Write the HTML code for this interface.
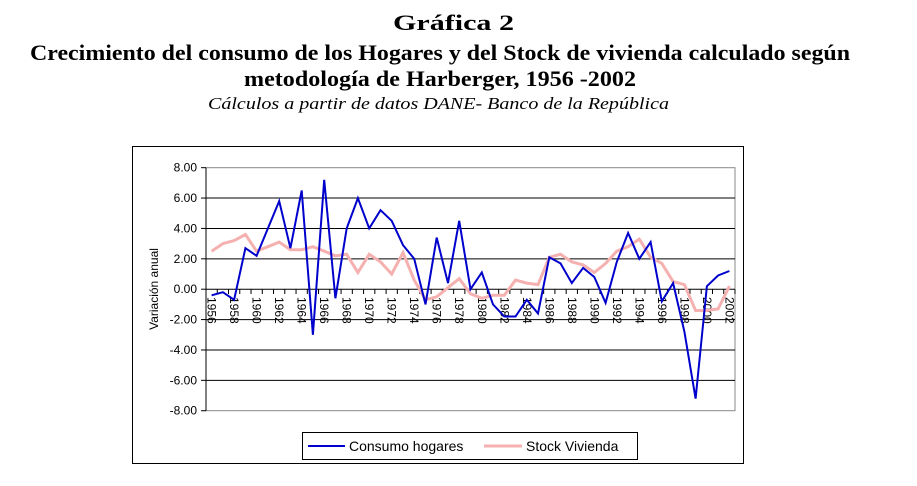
<!DOCTYPE html>
<html><head><meta charset="utf-8"><style>
body{margin:0;background:#fff;width:917px;height:481px;overflow:hidden}
</style></head><body>
<svg id="s" width="917" height="481" xmlns="http://www.w3.org/2000/svg" font-family="Liberation Sans, sans-serif">
<text x="393" y="30" textLength="121" lengthAdjust="spacingAndGlyphs" font-family="Liberation Serif, serif" font-weight="bold" font-size="22">Gráfica 2</text>
<text x="30" y="60" textLength="820" lengthAdjust="spacingAndGlyphs" font-family="Liberation Serif, serif" font-weight="bold" font-size="22">Crecimiento del consumo de los Hogares y del  Stock de vivienda calculado según</text>
<text x="244" y="86" textLength="392" lengthAdjust="spacingAndGlyphs" font-family="Liberation Serif, serif" font-weight="bold" font-size="22">metodología de Harberger, 1956 -2002</text>
<text x="208" y="109" textLength="461" lengthAdjust="spacingAndGlyphs" font-family="Liberation Serif, serif" font-style="italic" font-size="17">Cálculos  a partir de datos DANE- Banco de la República</text>
<rect x="132.5" y="146.5" width="611" height="317" fill="#fff" stroke="#000" stroke-width="1"/>
<rect x="206" y="167.7" width="529" height="243" fill="none" stroke="#888" stroke-width="1"/>
<g id="g"></g>
<text transform="translate(158,289) rotate(-90)" text-anchor="middle" font-size="12">Variación anual</text>
<rect x="302.5" y="432.5" width="335" height="27" fill="#fff" stroke="#000"/>
<line x1="308" y1="446" x2="345" y2="446" stroke="#0000cc" stroke-width="2"/>
<text x="349" y="451" font-size="14">Consumo hogares</text>
<line x1="484" y1="446" x2="522" y2="446" stroke="#f5b0b0" stroke-width="3"/>
<text x="526" y="451" font-size="14">Stock Vivienda</text>
</svg>
<script>
var c=[-0.4,-0.2,-0.7,2.7,2.2,4.0,5.8,2.7,6.5,-3.0,7.2,-0.6,4.0,6.0,4.0,5.2,4.5,2.9,2.0,-1.0,3.4,0.4,4.5,0.0,1.1,-1.0,-1.8,-1.8,-0.7,-1.6,2.1,1.7,0.4,1.4,0.8,-0.9,1.8,3.7,2.0,3.1,-0.8,0.4,-2.8,-7.2,0.2,0.9,1.2];
var s=[2.5,3.0,3.2,3.6,2.5,2.8,3.1,2.6,2.6,2.8,2.5,2.2,2.3,1.1,2.3,1.8,1.0,2.4,0.6,-0.7,-0.5,0.1,0.7,-0.3,-0.6,-0.4,-0.4,0.6,0.4,0.3,2.1,2.3,1.8,1.6,1.1,1.7,2.5,2.8,3.3,2.1,1.7,0.5,0.3,-1.4,-1.4,-1.3,0.2];
var x0=206,w=529/47,Y=function(v){return 289.2-v*15.19};
var h='';
for(var v=8;v>=-8;v-=2){var y=Y(v);h+='<text x="197" y="'+(y+4)+'" text-anchor="end" font-size="12">'+(v<0?'-':'')+Math.abs(v).toFixed(2)+'</text>';
 h+='<line x1="201" x2="206" y1="'+y+'" y2="'+y+'" stroke="#000"/>';
 if(v!=8&&v!=-8&&v!=0)h+='<line x1="206" x2="735" y1="'+y+'" y2="'+y+'" stroke="#000"/>';}
h+='<line x1="206" x2="206" y1="167.7" y2="410.7" stroke="#000"/>';
h+='<line x1="206" x2="735" y1="289.2" y2="289.2" stroke="#000"/>';
for(var i=0;i<=47;i++){var x=x0+i*w;h+='<line x1="'+x+'" x2="'+x+'" y1="289.2" y2="294" stroke="#000"/>';}
for(var i=0;i<47;i+=2){var x=x0+(i+0.5)*w;h+='<text transform="translate('+(x-4)+',297) rotate(90)" font-size="12">'+(1956+i)+'</text>';}
function p(a){return a.map(function(v,i){return (x0+(i+0.5)*w).toFixed(1)+','+Y(v).toFixed(1)}).join(' ')}
h+='<polyline points="'+p(s)+'" fill="none" stroke="#f5b0b0" stroke-width="3"/>';
h+='<polyline points="'+p(c)+'" fill="none" stroke="#0000cc" stroke-width="2"/>';
document.getElementById('g').innerHTML=h;
</script>
</body></html>
